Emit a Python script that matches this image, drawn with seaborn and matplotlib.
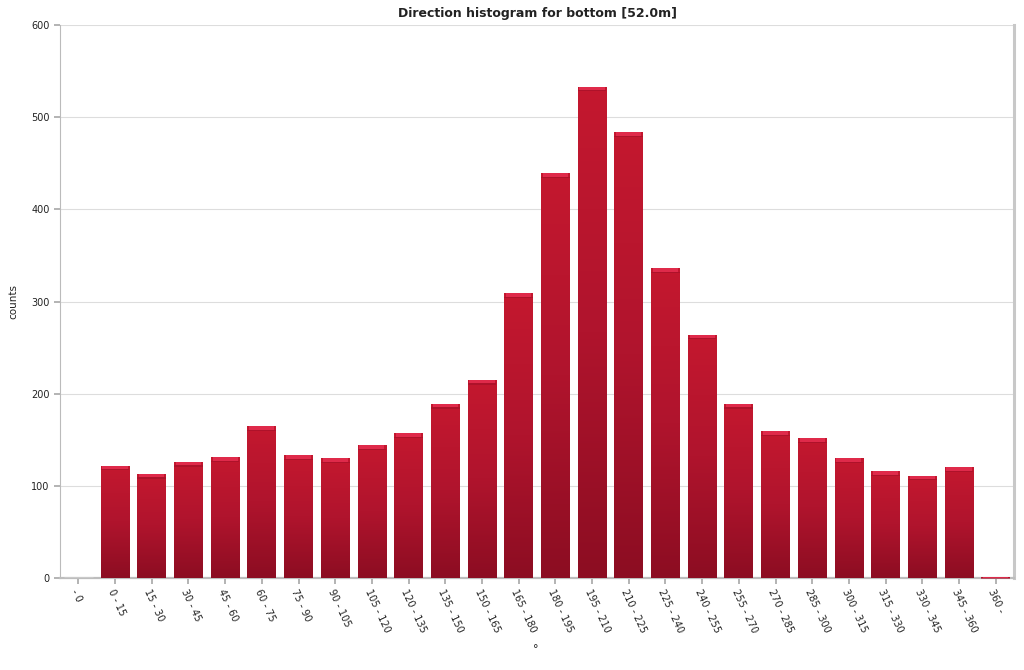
import numpy as np
import pandas as pd
import matplotlib
matplotlib.use("Agg")
import matplotlib.pyplot as plt
import seaborn as sns
from matplotlib.colors import LinearSegmentedColormap

categories = ["- 0", "0 - 15", "15 - 30", "30 - 45", "45 - 60", "60 - 75", "75 - 90",
              "90 - 105", "105 - 120", "120 - 135", "135 - 150", "150 - 165",
              "165 - 180", "180 - 195", "195 - 210", "210 - 225", "225 - 240",
              "240 - 255", "255 - 270", "270 - 285", "285 - 300", "300 - 315",
              "315 - 330", "330 - 345", "345 - 360", "360 -"]
counts = [0, 122, 113, 126, 131, 165, 133, 130, 144, 157, 189, 215, 309, 439,
          533, 484, 336, 264, 189, 159, 152, 130, 116, 111, 120, 1]
y_ticks = [0, 100, 200, 300, 400, 500, 600]

sns.set_theme(style="white")
plt.rcParams['font.family'] = ['DejaVu Sans']

df = pd.DataFrame({"bin": categories, "counts": counts})

fig = plt.figure(figsize=(10.24, 6.7), dpi=100)
ax = fig.add_axes([60/1024, 1 - 578/670, (1014-60)/1024, (578-25)/670])

sns.barplot(data=df, x="bin", y="counts", color="#b3142f", width=0.78,
            saturation=1, ax=ax, zorder=3)

ax.set_yticks(y_ticks)
ax.set_yticklabels([str(v) for v in y_ticks], fontsize=7, color="#222222")
ax.yaxis.grid(True, color="#dddddd", linewidth=0.8, zorder=0)
ax.set_axisbelow(True)

# gradient fill on each bar
cmap = LinearSegmentedColormap.from_list("bar", ["#8c0d22", "#b0142d", "#c4182f"])
grad = np.linspace(0, 1, 256).reshape(-1, 1)
for p in ax.patches:
    x0, y0 = p.get_x(), p.get_y()
    w, h = p.get_width(), p.get_height()
    if h <= 0:
        continue
    p.set_edgecolor("none")
    im = ax.imshow(grad, cmap=cmap, aspect="auto", origin="lower",
                   extent=[x0, x0 + w, y0, y0 + h], zorder=4)
    im.set_clip_path(p)
    cap = min(h, 6.0)
    ax.fill_between([x0 + w*0.06, x0 + w*0.94], y0 + h - cap*0.65, y0 + h,
                    color="#df2a4a", zorder=5, linewidth=0)
    ax.fill_between([x0, x0 + w], y0 + h - cap*0.65 - 1.2, y0 + h - cap*0.65,
                    color="#a10f28", zorder=5, linewidth=0, alpha=0.6)
ax.set_xlim(-0.5, len(categories) - 0.5)
ax.set_ylim(0, 600)

ax.set_xticks(range(len(categories)))
ax.set_xticklabels(categories, rotation=-65, ha="left", va="top",
                   rotation_mode="anchor", fontsize=7, color="#222222")
ax.tick_params(axis="x", length=4, color="#aaaaaa", pad=3, bottom=True)
ax.tick_params(axis="y", length=4, color="#aaaaaa", left=True)

ax.spines["top"].set_visible(False)
ax.spines["right"].set_color("#c8c8c8")
ax.spines["right"].set_linewidth(2.2)
ax.spines["left"].set_color("#bbbbbb")
ax.spines["bottom"].set_color("#bdbdbd")
ax.spines["left"].set_linewidth(0.8)
ax.spines["bottom"].set_linewidth(1.6)

ax.set_xlabel("°", fontsize=8, color="#222222")
ax.xaxis.set_label_coords((536-60)/(1014-60), -(644-578)/(578-25))
ax.set_ylabel("counts", fontsize=7.5, color="#222222")
ax.yaxis.set_label_coords(-(60-18)/(1014-60), 0.5)
ax.set_title("Direction histogram for bottom [52.0m]", fontsize=9,
             fontweight="bold", color="#222222", pad=6)

fig.savefig("out.png", dpi=100)
